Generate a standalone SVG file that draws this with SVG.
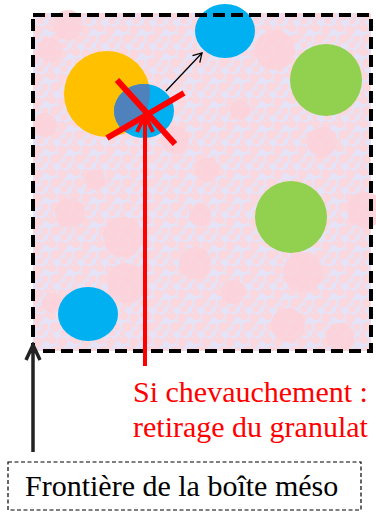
<svg xmlns="http://www.w3.org/2000/svg" width="376" height="513" viewBox="0 0 376 513">
  <defs>
    <style>
      .bg { fill: url(#tex); }
      .pink { fill: #fcd3da; opacity: 0.9; }
      .blue { fill: #00b0f0; }
      .orange { fill: #ffc000; }
      .green { fill: #92d050; }
      .cross { stroke: #ff0000; stroke-width: 6; stroke-linecap: butt; fill: none; }
      .border { fill: none; stroke: #000; stroke-width: 4; stroke-dasharray: 12 6; }
      .lbox { fill: #fff; stroke: #000; stroke-width: 1.2; stroke-dasharray: 4 2.5; }
      .txt { font-family: "Liberation Serif", "Times New Roman", serif; font-size: 30px; }
    </style>
    <pattern id="tex" width="24" height="24" patternUnits="userSpaceOnUse">
      <rect width="24" height="24" fill="#e4e3f7"/>
      <circle cx="4" cy="4" r="4" fill="#fbd7de"/>
      <circle cx="14" cy="6" r="5" fill="#fbd7de"/>
      <circle cx="21" cy="15" r="3.5" fill="#fbd7de"/>
      <circle cx="7" cy="15" r="5" fill="#fbd7de"/>
      <circle cx="16" cy="21" r="3.5" fill="#fbd7de"/>
      <circle cx="2" cy="22" r="3" fill="#fbd7de"/>
      <circle cx="22" cy="3" r="2.5" fill="#fbd7de"/>
      <circle cx="13" cy="13" r="2.5" fill="#fbd7de"/>
    </pattern>
    <marker id="headThin" viewBox="0 0 12 12" refX="10.5" refY="6" markerWidth="12" markerHeight="12" markerUnits="userSpaceOnUse" orient="auto">
      <path d="M2,1 L10.5,6 L2,11" fill="none" stroke="#000" stroke-width="1.3"/>
    </marker>
    <marker id="headRed" viewBox="0 0 22 22" refX="19" refY="11" markerWidth="22" markerHeight="22" markerUnits="userSpaceOnUse" orient="auto">
      <path d="M2,3 L19,11 L2,19" fill="none" stroke="#ff0000" stroke-width="4"/>
    </marker>
    <marker id="headBlack" viewBox="0 0 20 20" refX="17" refY="10" markerWidth="20" markerHeight="20" markerUnits="userSpaceOnUse" orient="auto">
      <path d="M2,3 L17,10 L2,17" fill="none" stroke="#222" stroke-width="3.5"/>
    </marker>
    <clipPath id="smallBlueClip"><ellipse cx="144" cy="111" rx="30" ry="27"/></clipPath>
  </defs>

  <g id="meso-box-background">
    <rect class="bg" x="33" y="13" width="338" height="338"/>
    <circle class="pink" cx="68" cy="25" r="15"/>
    <circle class="pink" cx="50" cy="50" r="12"/>
    <circle class="pink" cx="275" cy="50" r="20"/>
    <circle class="pink" cx="322" cy="142" r="15"/>
    <circle class="pink" cx="175" cy="140" r="14"/>
    <circle class="pink" cx="207" cy="170" r="12"/>
    <circle class="pink" cx="70" cy="213" r="15"/>
    <circle class="pink" cx="123" cy="237" r="20"/>
    <circle class="pink" cx="127" cy="283" r="20"/>
    <circle class="pink" cx="195" cy="263" r="16"/>
    <circle class="pink" cx="303" cy="272" r="20"/>
    <circle class="pink" cx="288" cy="325" r="17"/>
    <circle class="pink" cx="340" cy="337" r="14"/>
    <circle class="pink" cx="233" cy="292" r="12"/>
    <circle class="pink" cx="365" cy="210" r="18"/>
    <circle class="pink" cx="52" cy="303" r="10"/>
    <circle class="pink" cx="45" cy="125" r="12"/>
    <circle class="pink" cx="240" cy="110" r="10"/>
    <circle class="pink" cx="200" cy="215" r="11"/>
    <circle class="pink" cx="95" cy="180" r="10"/>
  </g>

  <g id="granulat-orange">
    <circle class="orange" cx="107" cy="94" r="43"/>
  </g>
  <g id="granulat-bleu-chevauchant">
    <ellipse class="blue" cx="144" cy="111" rx="30" ry="27"/>
    <circle cx="107" cy="94" r="43" fill="#4f81bd" clip-path="url(#smallBlueClip)"/>
  </g>
  <g id="granulat-bleu-haut">
    <ellipse class="blue" cx="225" cy="31" rx="30" ry="27"/>
  </g>
  <g id="granulat-vert-haut">
    <circle class="green" cx="326" cy="80" r="36"/>
  </g>
  <g id="granulat-vert-milieu">
    <circle class="green" cx="291" cy="217" r="36"/>
  </g>
  <g id="granulat-bleu-bas">
    <ellipse class="blue" cx="88" cy="314" rx="30" ry="27"/>
  </g>

  <g id="frontiere">
    <rect class="border" x="33" y="15" width="338" height="336"/>
  </g>

  <g id="connectors">
    <line x1="166" y1="91" x2="202" y2="53" stroke="#000" stroke-width="1.3" marker-end="url(#headThin)"/>
    <line x1="145" y1="366" x2="145" y2="115" stroke="#ff0000" stroke-width="4" marker-end="url(#headRed)"/>
    <line x1="33" y1="452" x2="33" y2="345" stroke="#222" stroke-width="3.5" marker-end="url(#headBlack)"/>
  </g>

  <g id="croix-retrait">
    <line class="cross" x1="117" y1="80" x2="175" y2="144"/>
    <line class="cross" x1="107" y1="138" x2="184" y2="93"/>
  </g>

  <g id="label-chevauchement">
    <text class="txt" x="133" y="402" fill="#ff0000">Si chevauchement :</text>
    <text class="txt" x="133" y="437" fill="#ff0000">retirage du granulat</text>
  </g>

  <g id="label-frontiere">
    <rect class="lbox" x="8" y="462" width="353" height="48"/>
    <text class="txt" x="25" y="496" fill="#000">Frontière de la boîte méso</text>
  </g>
</svg>
